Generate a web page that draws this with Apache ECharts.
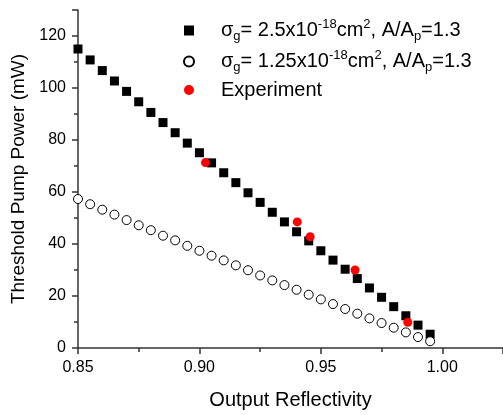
<!DOCTYPE html>
<html><head><meta charset="utf-8">
<script src="https://cdn.jsdelivr.net/npm/echarts@6/dist/echarts.min.js"></script>
<style>html,body{margin:0;padding:0;background:#fff}#c{width:503px;height:415px}</style>
</head><body><div id="c"></div>
<script>
const reflectivity = [0.85,0.855,0.86,0.865,0.87,0.875,0.88,0.885,0.89,0.895,0.90,0.905,0.91,0.915,0.92,0.925,0.93,0.935,0.94,0.945,0.95,0.955,0.96,0.965,0.97,0.975,0.98,0.985,0.99,0.995];
const powerSigma25 = [115,110.8,106.7,102.7,98.7,94.7,90.6,86.7,82.8,78.8,75.1,71.2,67.4,63.6,59.7,56,52.2,48.5,44.7,41.2,37.4,33.8,30.3,26.7,23.1,19.5,15.9,12.4,8.8,5.3];
const powerSigma125 = [57.3,55.3,53.2,51.3,49.2,47.2,45.3,43.2,41.4,39.3,37.4,35.5,33.7,31.8,29.9,27.9,26,24.2,22.4,20.5,18.7,16.9,15,13.2,11.4,9.6,7.8,6,4.2,2.6];
const expReflectivity = [0.9025,0.9403,0.9456,0.9641,0.9858];
const expPower = [71.3,48.5,42.8,30,9.9];
const xTicks = [0.85,0.90,0.95,1.00];
const yTicks = [0,20,40,60,80,100,120];

const zip = (a,b)=>a.map((v,i)=>[v,b[i]]);
const chart = echarts.init(document.getElementById('c'));
const FONT = '"Liberation Sans", Arial, sans-serif';
const rich = {
  a:{fontSize:20,fontFamily:FONT,color:'#000',lineHeight:30},
  sub:{fontSize:13,fontFamily:FONT,color:'#000',lineHeight:30,padding:[12,0,0,0]},
  sup:{fontSize:13,fontFamily:FONT,color:'#000',lineHeight:30,padding:[0,0,12,0]}
};
chart.setOption({
  animation:false,
  grid:{left:78,right:0,top:10,bottom:67,containLabel:false},
  legend:{
    orient:'vertical',left:183,top:18,padding:0,itemWidth:10,itemHeight:10,itemGap:6,
    textStyle:{fontSize:20,fontFamily:FONT,color:'#000',padding:[0,0,0,22],rich:rich},
    formatter:function(name){
      if(name==='s1') return '{a|σ}{sub|g}{a|= 2.5x10}{sup|-18}{a|cm}{sup|2}{a|, A/A}{sub|p}{a|=1.3}';
      if(name==='s2') return '{a|σ}{sub|g}{a|= 1.25x10}{sup|-18}{a|cm}{sup|2}{a|, A/A}{sub|p}{a|=1.3}';
      return '{a|Experiment}';
    },
    data:['s1','s2','exp']
  },
  xAxis:{
    type:'value',min:0.85,max:1.025,interval:0.05,
    name:'Output Reflectivity',nameLocation:'middle',nameGap:42,
    nameTextStyle:{fontSize:20,fontFamily:FONT,color:'#000'},
    axisLine:{lineStyle:{color:'#333',width:1.5}},
    axisTick:{length:6,lineStyle:{color:'#333',width:1.5}},
    minorTick:{show:true,splitNumber:2,length:4,lineStyle:{color:'#333',width:1.5}},
    splitLine:{show:false},
    axisLabel:{fontSize:16,fontFamily:FONT,color:'#000',margin:12,showMaxLabel:false,
      formatter:v=>{const t=xTicks.find(x=>Math.abs(x-v)<1e-6);return t===undefined?'':t.toFixed(2);}}
  },
  yAxis:{
    type:'value',min:0,max:130,interval:20,
    name:'Threshold Pump Power (mW)',nameLocation:'middle',nameGap:50,nameRotate:90,
    nameTextStyle:{fontSize:19,fontFamily:FONT,color:'#000'},
    axisLine:{show:true,lineStyle:{color:'#333',width:1.5}},
    axisTick:{show:true,length:6,lineStyle:{color:'#333',width:1.5}},
    minorTick:{show:true,splitNumber:2,length:4,lineStyle:{color:'#333',width:1.5}},
    splitLine:{show:false},
    axisLabel:{fontSize:16,fontFamily:FONT,color:'#000',margin:12,showMaxLabel:false,
      formatter:v=>yTicks.includes(v)?String(v):''}
  },
  series:[
    {name:'s1',type:'scatter',symbol:'rect',symbolSize:9,data:zip(reflectivity,powerSigma25),
      itemStyle:{color:'#000',opacity:1},z:2},
    {name:'s2',type:'scatter',symbol:'circle',symbolSize:9,data:zip(reflectivity,powerSigma125),
      itemStyle:{color:'#fff',borderColor:'#000',borderWidth:1,opacity:1},z:2},
    {name:'exp',type:'scatter',symbol:'circle',symbolSize:9,data:zip(expReflectivity,expPower),
      itemStyle:{color:'#ff0000',opacity:1},z:3}
  ]
});
</script></body></html>
